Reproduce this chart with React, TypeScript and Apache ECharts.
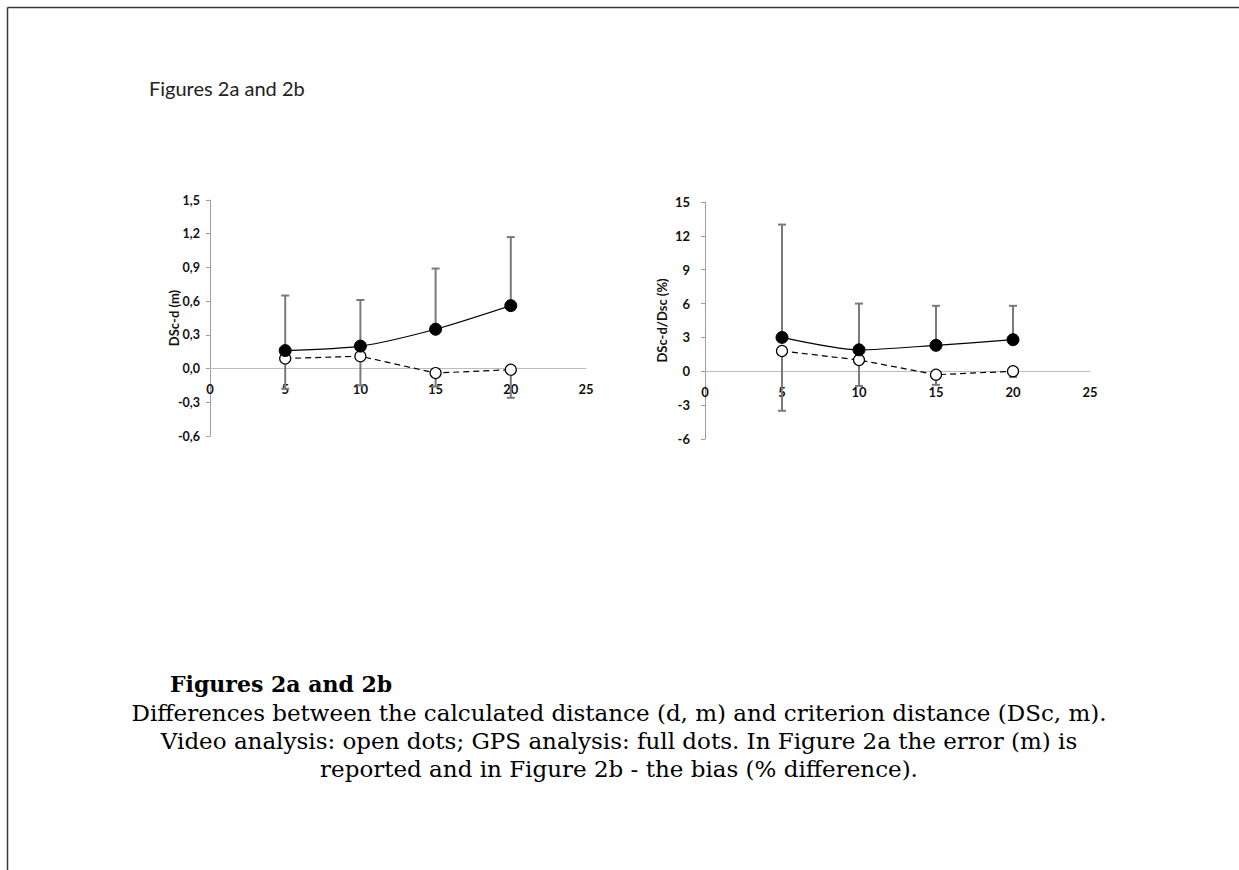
import React, { useEffect, useRef } from "react";
import * as echarts from "echarts";

// Distance (m)
const distances = [5, 10, 15, 20];
const xTicks = [0, 5, 10, 15, 20, 25];

// Figure 2a: error (m)
const errorAxis = { min: -0.6, max: 1.5, interval: 0.3 };
const gpsErrorM = [0.16, 0.2, 0.35, 0.56];
const gpsErrorMUpper = [0.65, 0.61, 0.89, 1.17];
const videoErrorM = [0.09, 0.11, -0.04, -0.01];
const videoErrorMLower = [-0.18, -0.15, -0.16, -0.26];

// Figure 2b: bias (%)
const biasAxis = { min: -6, max: 15, interval: 3 };
const gpsBiasPct = [3.0, 1.9, 2.3, 2.8];
const gpsBiasPctUpper = [13.0, 6.0, 5.8, 5.8];
const videoBiasPct = [1.8, 1.0, -0.3, 0.0];
const videoBiasPctLower = [-3.5, -1.3, -1.2, -0.5];

const titleText = "Figures 2a and 2b";
const captionTitle = "Figures 2a and 2b";
const captionLines = [
  "Differences between the calculated distance (d, m) and criterion distance (DSc, m).",
  "Video analysis: open dots; GPS analysis: full dots. In Figure 2a the error (m) is",
  "reported and in Figure 2b - the bias (% difference).",
];

const axisFont = "Lato, 'Open Sans', sans-serif";
const serifFont = "'DejaVu Serif', serif";

function errRender(params: any, api: any) {
  const x = api.value(0);
  const v = api.value(1);
  const e = api.value(2);
  const p0 = api.coord([x, v]);
  const p1 = api.coord([x, e]);
  const style = { stroke: "#7a7a7a", lineWidth: 2 };
  return {
    type: "group",
    children: [
      { type: "line", shape: { x1: p0[0], y1: p0[1], x2: p1[0], y2: p1[1] }, style },
      { type: "line", shape: { x1: p1[0] - 4, y1: p1[1], x2: p1[0] + 4, y2: p1[1] }, style },
    ],
  };
}

export default function App() {
  const ref = useRef<HTMLDivElement>(null);
  useEffect(() => {
    document.body.style.margin = "0";
    const chart = echarts.init(ref.current!, null, { renderer: "svg" });

    const grids = [
      { left: 210, top: 200, width: 376, height: 236 },
      { left: 705, top: 202, width: 385, height: 237 },
    ];
    const yRanges = [errorAxis, biasAxis];

    const xAxisBase = (gridIndex: number) => {
      const r = yRanges[gridIndex];
      const zeroOffset = -((0 - r.min) / (r.max - r.min)) * grids[gridIndex].height;
      return {
        type: "value",
        gridIndex,
        position: "bottom",
        offset: zeroOffset,
        min: xTicks[0],
        max: xTicks[xTicks.length - 1],
        interval: 5,
        axisLine: { onZero: false, lineStyle: { color: "#bdbdbd", width: 1 } },
        axisTick: { show: false },
        splitLine: { show: false },
        axisLabel: {
          fontFamily: axisFont,
          fontWeight: "bold",
          fontSize: 13,
          color: "#111",
          margin: 14,
        },
      };
    };

    const mkLines = (idx: number, gps: number[], video: number[]) => [
      {
        type: "line",
        xAxisIndex: idx,
        yAxisIndex: idx,
        data: distances.map((d, i) => [d, gps[i]]),
        smooth: 0.25,
        symbol: "circle",
        symbolSize: 12,
        itemStyle: { color: "#000", borderColor: "#000" },
        lineStyle: { color: "#000", width: 1.2 },
        z: 5,
      },
      {
        type: "line",
        xAxisIndex: idx,
        yAxisIndex: idx,
        data: distances.map((d, i) => [d, video[i]]),
        symbol: "circle",
        symbolSize: 11,
        itemStyle: { color: "#fff", borderColor: "#000", borderWidth: 1.2 },
        lineStyle: { color: "#000", width: 1.2, type: [6, 4] },
        z: 4,
      },
    ];

    const mkErr = (idx: number, vals: number[], ends: number[]) => ({
      type: "custom",
      xAxisIndex: idx,
      yAxisIndex: idx,
      renderItem: errRender,
      encode: { x: 0, y: [1, 2] },
      data: distances.map((d, i) => [d, vals[i], ends[i]]),
      z: 2,
    });

    const nameStyle = { fontFamily: axisFont, fontWeight: "bold", fontSize: 13, color: "#111" };

    chart.setOption({
      animation: false,
      backgroundColor: "#fff",
      grid: grids,
      xAxis: [xAxisBase(0), xAxisBase(1)],
      yAxis: [
        {
          type: "value",
          gridIndex: 0,
          min: errorAxis.min,
          max: errorAxis.max,
          interval: errorAxis.interval,
          name: "DSc-d (m)",
          nameLocation: "middle",
          nameGap: 30,
          nameMoveOverlap: false,
          nameTextStyle: nameStyle,
          axisLine: { show: true, lineStyle: { color: "#9e9e9e" } },
          axisTick: { show: true, length: 4, lineStyle: { color: "#9e9e9e" } },
          splitLine: { show: false },
          axisLabel: {
            fontFamily: axisFont,
            fontWeight: "bold",
            fontSize: 12.5,
            color: "#111",
            margin: 10,
            formatter: (v: number) => v.toFixed(1).replace(".", ","),
          },
        },
        {
          type: "value",
          gridIndex: 1,
          min: biasAxis.min,
          max: biasAxis.max,
          interval: biasAxis.interval,
          name: "DSc-d/Dsc (%)",
          nameLocation: "middle",
          nameGap: 37,
          nameMoveOverlap: false,
          nameTextStyle: nameStyle,
          axisLine: { show: true, lineStyle: { color: "#9e9e9e" } },
          axisTick: { show: true, length: 4, lineStyle: { color: "#9e9e9e" } },
          splitLine: { show: false },
          axisLabel: {
            fontFamily: axisFont,
            fontWeight: "bold",
            fontSize: 13,
            color: "#111",
            margin: 15,
          },
        },
      ],
      series: [
        mkErr(0, gpsErrorM, gpsErrorMUpper),
        mkErr(0, videoErrorM, videoErrorMLower),
        ...mkLines(0, gpsErrorM, videoErrorM),
        mkErr(1, gpsBiasPct, gpsBiasPctUpper),
        mkErr(1, videoBiasPct, videoBiasPctLower),
        ...mkLines(1, gpsBiasPct, videoBiasPct),
      ],
      graphic: [
        { type: "line", shape: { x1: 7.5, y1: 7.5, x2: 1239, y2: 7.5 }, style: { stroke: "#3a3a3a", lineWidth: 1.5 } },
        { type: "line", shape: { x1: 7.5, y1: 7.5, x2: 7.5, y2: 870 }, style: { stroke: "#3a3a3a", lineWidth: 1.5 } },
        {
          type: "text",
          x: 149,
          y: 88,
          style: { text: titleText, font: `20px ${axisFont}`, fill: "#222", verticalAlign: "middle", align: "left" },
        },
        {
          type: "text",
          x: 170,
          y: 684,
          style: { text: captionTitle, font: `bold 22px ${serifFont}`, fill: "#000", verticalAlign: "middle", align: "left" },
        },
        ...captionLines.map((t, i) => ({
          type: "text",
          x: 619,
          y: 713 + i * 28,
          style: { text: t, font: `23px ${serifFont}`, fill: "#000", verticalAlign: "middle", align: "center" },
        })),
      ],
    });
    return () => chart.dispose();
  }, []);
  return <div ref={ref} style={{ width: 1239, height: 870 }} />;
}
